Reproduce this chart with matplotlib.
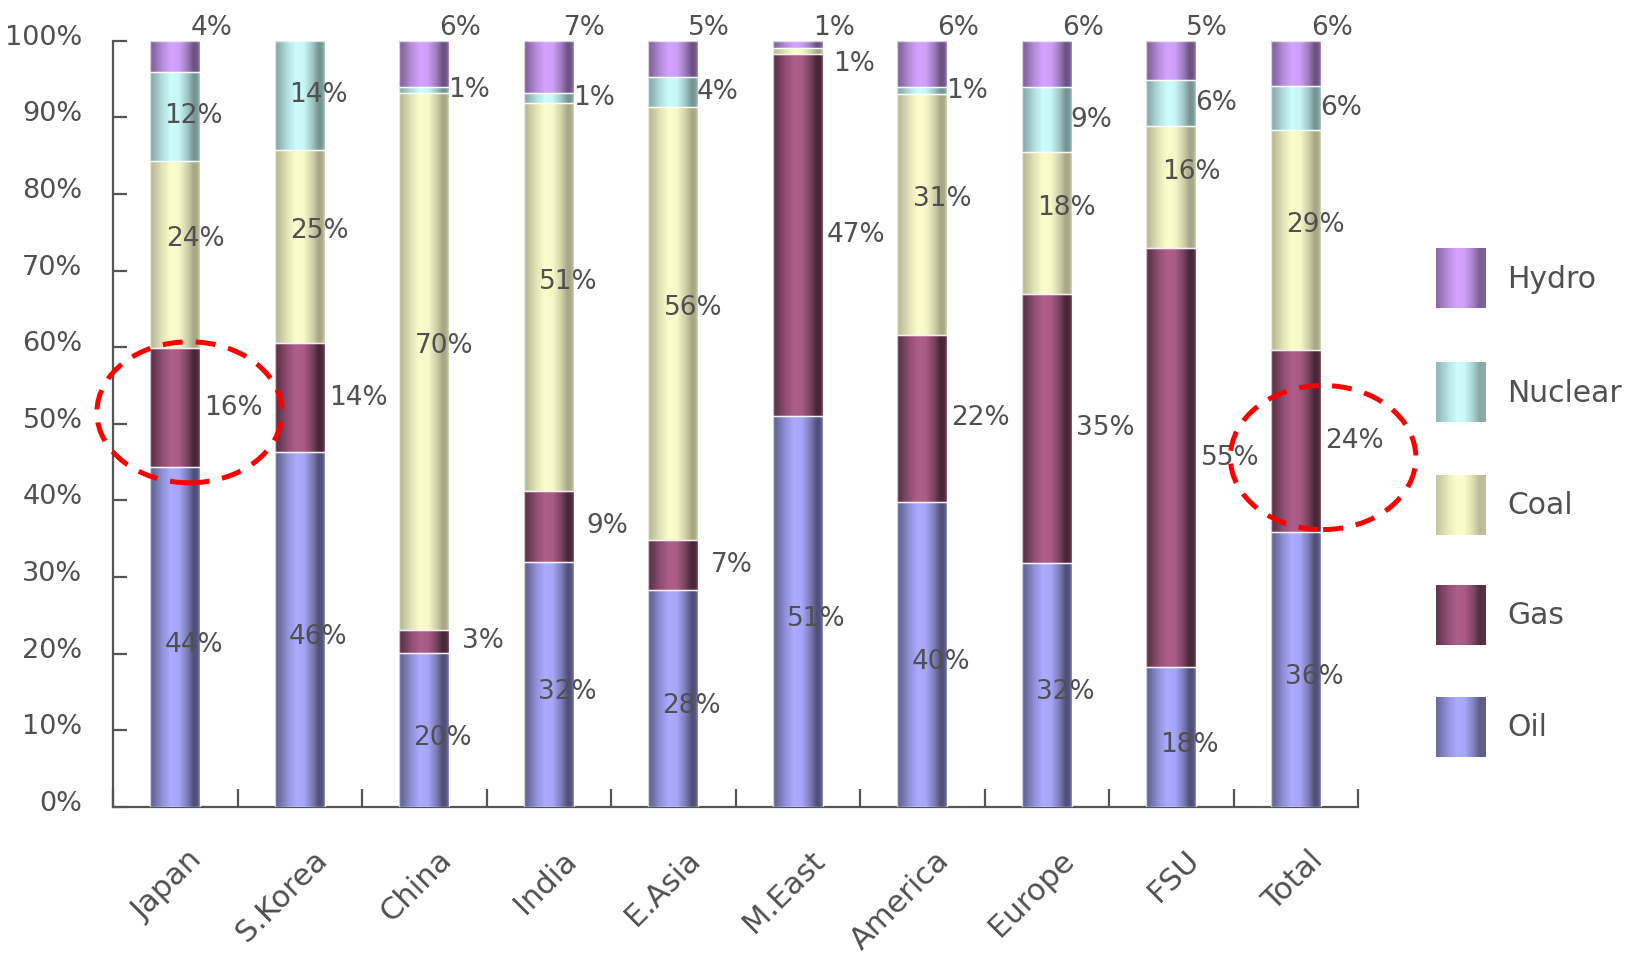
import numpy as np
import matplotlib
matplotlib.use("Agg")
import matplotlib.pyplot as plt
from matplotlib.patches import Ellipse, Rectangle
from matplotlib.transforms import ScaledTranslation

# ---------------- data ----------------
categories = ["Japan", "S.Korea", "China", "India", "E.Asia", "M.East",
              "America", "Europe", "FSU", "Total"]
series_names = ["Oil", "Gas", "Coal", "Nuclear", "Hydro"]
oil     = [44.3, 46.3, 20.1, 32.0, 28.3, 51.0, 39.8, 31.9, 18.3, 35.9]
gas     = [15.6, 14.2,  3.0,  9.2,  6.6, 47.2, 21.8, 35.1, 54.6, 23.7]
coal    = [24.4, 25.2, 70.0, 50.7, 56.4,  0.8, 31.4, 18.4, 16.0, 28.8]
nuclear = [11.6, 14.3,  0.9,  1.2,  4.0,  0.0,  0.9,  8.6,  6.0,  5.7]
hydro   = [ 4.1,  0.0,  6.0,  6.9,  4.7,  1.0,  6.1,  6.0,  5.1,  5.9]
yticks_vals = [0, 10, 20, 30, 40, 50, 60, 70, 80, 90, 100]

series_vals = [oil, gas, coal, nuclear, hydro]
base_colors = {"Oil": (0.67, 0.67, 1.0), "Gas": (0.68, 0.37, 0.54),
               "Coal": (0.99, 0.99, 0.80), "Nuclear": (0.80, 0.99, 0.99),
               "Hydro": (0.83, 0.64, 1.0)}
edge_dark = {"Oil": 0.46, "Gas": 0.40, "Coal": 0.66, "Nuclear": 0.58, "Hydro": 0.50}

TEXT = "#505050"
AX = "#555555"
FONT = "DejaVu Sans"
plt.rcParams["font.family"] = FONT

W, H = 1632, 959
fig = plt.figure(figsize=(W / 100, H / 100), dpi=100)
ax = fig.add_axes([113 / W, 1 - 807 / H, (1358 - 113) / W, (807 - 40.6) / H])
ax.set_xlim(-0.5, len(categories) - 0.5)
ax.set_ylim(0, 100)

_tp = [0.0, 0.08, 0.25, 0.42, 0.58, 0.75, 0.88, 0.95, 1.0]
_fp = [0.18, 0.32, 0.72, 1.0, 0.95, 0.50, 0.0, 0.06, 0.45]


def profile(n, dark, rim=True):
    t = np.linspace(0, 1, n)
    fp = list(_fp)
    if not rim:
        fp[-1] = fp[-2]
    g = np.interp(t, _tp, fp)
    return dark + (1 - dark) * g


x = np.arange(len(categories))
bw = 0.4
bottom = np.zeros(len(categories))
for name, vals in zip(series_names, series_vals):
    vals = np.array(vals, dtype=float)
    bars = ax.bar(x, vals, bw, bottom=bottom, color=base_colors[name],
                  edgecolor="none", zorder=2)
    prof = profile(100, edge_dark[name])
    img = np.clip(np.array(base_colors[name])[None, :] * prof[:, None], 0, 1)[None, :, :]
    for p in bars:
        if p.get_height() <= 0:
            continue
        bx, by = p.get_x(), p.get_y()
        im = ax.imshow(img, extent=(bx, bx + p.get_width(), by, by + p.get_height()),
                       aspect="auto", interpolation="bilinear", zorder=3)
        im.set_clip_path(p)
        ax.add_patch(Rectangle((bx, by), p.get_width(), p.get_height(), fill=False,
                               edgecolor=(1, 1, 1, 0.7), lw=1.0, zorder=4))
    # data labels
    for i, (v, b) in enumerate(zip(vals, bottom)):
        if v <= 0:
            continue
        mid = b + v / 2
        if name == "Oil":
            dx, yy = 0.15, mid - 1.0
        elif name == "Gas":
            dx, yy = 0.47, mid
        elif name == "Coal":
            if v < 2:
                dx, yy = 0.45, mid - 1.7
            else:
                dx, yy = 0.16, mid + 2.0
        elif name == "Nuclear":
            dx, yy = (0.15, mid) if v >= 10 else (0.36, mid)
        else:
            dx, yy = 0.29, 101.6
        ax.text(i + dx, yy, f"{round(v):.0f}%", ha="center", va="center",
                fontsize=19, color=TEXT, zorder=6, clip_on=False)
    bottom = bottom + vals

# axes styling
for s in ["top", "right"]:
    ax.spines[s].set_visible(False)
for s in ["left", "bottom"]:
    ax.spines[s].set_color(AX)
    ax.spines[s].set_linewidth(1.6)

ax.set_yticks(yticks_vals)
ax.set_yticklabels([f"{v}%" for v in yticks_vals])
ax.tick_params(axis="y", direction="in", length=10, width=1.6, color=AX,
               labelsize=19.5, labelcolor=TEXT, pad=22)
off = ScaledTranslation(0, 6 / 100, fig.dpi_scale_trans)
for lab in ax.get_yticklabels():
    lab.set_transform(lab.get_transform() + off)

ax.set_xticks(np.arange(-0.5, len(categories), 1.0))
ax.set_xticklabels([])
ax.tick_params(axis="x", direction="in", length=13, width=1.6, color=AX)
for i, c in enumerate(categories):
    ax.text(i + 0.10, -5.0, c, rotation=45, ha="right", va="top",
            rotation_mode="anchor", fontsize=22, color=TEXT, clip_on=False)

# highlight ellipses
for cx, cy, ew, eh in [(0.114, 51.5, 1.486, 18.4), (9.22, 45.6, 1.49, 18.8)]:
    ax.add_patch(Ellipse((cx, cy), ew, eh, fill=False, edgecolor="#ff0000",
                         lw=3.6, linestyle=(0, (4, 2.6)), zorder=7, clip_on=False))

# legend (manual, pixel layout)
lax = fig.add_axes([0, 0, 1, 1])
lax.set_xlim(0, W)
lax.set_ylim(H, 0)
lax.axis("off")
tops = [248, 362, 475, 585, 697]
for name, top in zip(series_names[::-1], tops):
    prof = profile(60, min(edge_dark[name] + 0.08, 0.75), rim=False)
    img = np.clip(np.array(base_colors[name])[None, :] * prof[:, None], 0, 1)[None, :, :]
    lax.imshow(img, extent=(1436, 1486, top + 60, top), aspect="auto",
               interpolation="bilinear")
    lax.text(1507, top + 31, name, ha="left", va="center", fontsize=21.5, color=TEXT)
lax.set_xlim(0, W)
lax.set_ylim(H, 0)

fig.savefig("out.png", dpi=100)
